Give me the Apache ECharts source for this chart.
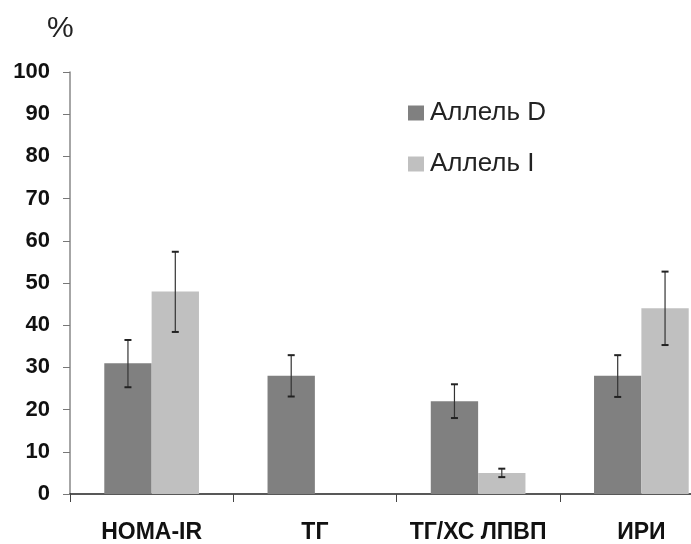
<!DOCTYPE html>
<html>
<head>
<meta charset="utf-8">
<script src="https://cdn.jsdelivr.net/npm/echarts@6/dist/echarts.min.js"></script>
<style>
  html, body { margin: 0; padding: 0; background: #fff; overflow: hidden; }
  #chart { width: 723px; height: 544px; }
</style>
</head>
<body>
<div id="chart"></div>
<script>
const categories = ['HOMA-IR', 'ТГ', 'ТГ/ХС ЛПВП', 'ИРИ']
const alleleD = [31, 28, 22, 28]
const alleleI = [48, null, 5, 44]
const errD = [[25.3, 36.5], [23.1, 32.9], [18, 26], [23, 32.9]]
const errI = [[38.4, 57.4], null, [4, 6], [35.3, 52.7]]
const yTicks = [0, 10, 20, 30, 40, 50, 60, 70, 80, 90, 100]

const barRatio = 0.29

function errorSeries(name, errs, side) {
    return {
        type: 'custom',
        name: name + ' err',
        z: 10,
        silent: true,
        data: errs.map((e, i) => e ? [i, e[0], e[1]] : [i, null, null]),
        renderItem: function (params, api) {
            if (api.value(1) == null || isNaN(api.value(1))) return
            const band = api.size([1, 0])[0]
            const off = side * band * barRatio / 2
            const lo = api.coord([api.value(0), api.value(1)])
            const hi = api.coord([api.value(0), api.value(2)])
            const x = lo[0] + off
            const cap = 3.5
            const style = { stroke: '#333', lineWidth: 1.2 }
            return {
                type: 'group',
                children: [
                    { type: 'line', shape: { x1: x, y1: lo[1], x2: x, y2: hi[1] }, style: style },
                    { type: 'line', shape: { x1: x - cap, y1: lo[1], x2: x + cap, y2: lo[1] }, style: { stroke: '#222', lineWidth: 2 } },
                    { type: 'line', shape: { x1: x - cap, y1: hi[1], x2: x + cap, y2: hi[1] }, style: { stroke: '#222', lineWidth: 2 } }
                ]
            }
        }
    }
}

// the plot runs past the right edge of the window, as in the source figure
const myChart = echarts.init(document.getElementById('chart'))
const option = {
    animation: false,
    title: {
        text: '%',
        left: 42,
        top: 9,
        textStyle: { fontFamily: 'Liberation Sans', fontWeight: 'normal', fontSize: 30, color: '#222' }
    },
    legend: {
        orient: 'vertical',
        left: 403,
        top: 95,
        itemGap: 25,
        itemWidth: 16,
        itemHeight: 15,
        icon: 'rect',
        data: ['Аллель D', 'Аллель I'],
        textStyle: { fontFamily: 'Liberation Sans', fontSize: 26, color: '#222', padding: [0, 0, 0, 1] }
    },
    grid: { left: 70, right: 0, top: 72, bottom: 49, containLabel: false },
    xAxis: {
        type: 'category',
        data: categories,
        axisLine: { lineStyle: { color: '#222', width: 1.5 } },
        axisTick: { show: true, length: 8, lineStyle: { color: '#444' } },
        axisLabel: {
            interval: 0,
            margin: 27,
            fontFamily: 'Liberation Sans',
            fontWeight: 'bold',
            fontSize: 23,
            color: '#111'
        }
    },
    yAxis: {
        type: 'value',
        min: 0,
        max: 100,
        interval: 10,
        splitLine: { show: false },
        axisLine: { show: true, lineStyle: { color: '#888', width: 1.5 } },
        axisTick: { show: true, length: 7, lineStyle: { color: '#777' } },
        axisLabel: {
            margin: 20,
            fontFamily: 'Liberation Sans',
            fontWeight: 'bold',
            fontSize: 22,
            color: '#111',
            formatter: v => yTicks.includes(v) ? String(v) : ''
        }
    },
    series: [
        {
            type: 'bar',
            name: 'Аллель D',
            data: alleleD,
            barWidth: (barRatio * 100) + '%',
            barGap: '0%',
            itemStyle: { color: '#808080' }
        },
        {
            type: 'bar',
            name: 'Аллель I',
            data: alleleI,
            barWidth: (barRatio * 100) + '%',
            barGap: '0%',
            itemStyle: { color: '#c0c0c0' }
        },
        errorSeries('Аллель D', errD, -1),
        errorSeries('Аллель I', errI, 1)
    ]
}
myChart.setOption(option)
</script>
</body>
</html>
